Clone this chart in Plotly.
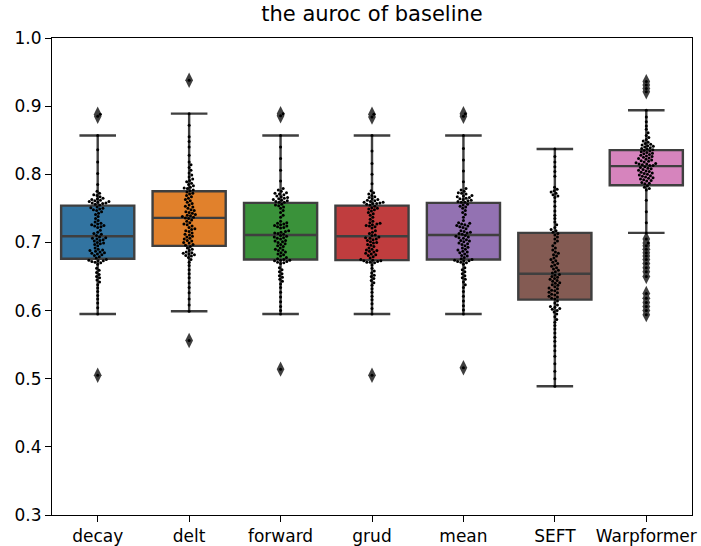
import numpy as np
import plotly.graph_objects as go

# ---- data -------------------------------------------------------------
methods = ["decay", "delt", "forward", "grud", "mean", "SEFT", "Warpformer"]

colors = ["#3274a1", "#e1812c", "#3a923a", "#c03d3e", "#9372b2", "#845b53", "#d684bd"]

# box summary per method (q1, median, q3, whisker ends)
q1 = [0.676, 0.695, 0.675, 0.674, 0.675, 0.616, 0.784]
median = [0.709, 0.736, 0.711, 0.709, 0.711, 0.654, 0.812]
q3 = [0.754, 0.775, 0.758, 0.754, 0.758, 0.714, 0.8355]
lower_whisker = [0.595, 0.599, 0.595, 0.595, 0.595, 0.489, 0.714]
upper_whisker = [0.857, 0.889, 0.857, 0.857, 0.857, 0.837, 0.894]

decay = [
    0.888, 0.885, 0.857, 0.836, 0.818, 0.801, 0.785,
    0.775, 0.772, 0.770, 0.769, 0.767, 0.765, 0.764, 0.763, 0.762, 0.761,
    0.760, 0.760, 0.759, 0.758, 0.758, 0.757, 0.756, 0.755,
    0.752, 0.751, 0.750, 0.749, 0.748, 0.747, 0.745, 0.743, 0.741, 0.738,
    0.735, 0.732, 0.730, 0.728, 0.727, 0.726, 0.725, 0.724, 0.723, 0.722,
    0.718, 0.715, 0.713, 0.712, 0.710,
    0.708, 0.707, 0.706, 0.705, 0.704, 0.703, 0.702, 0.700, 0.699, 0.698,
    0.697, 0.695, 0.692, 0.690, 0.689, 0.688, 0.687, 0.686, 0.685, 0.684,
    0.683, 0.682, 0.681, 0.679, 0.677,
    0.675, 0.674, 0.673, 0.673, 0.672, 0.671, 0.670, 0.668, 0.662, 0.659,
    0.656, 0.653, 0.650, 0.648, 0.645, 0.642, 0.638, 0.633, 0.628, 0.622,
    0.617, 0.611, 0.604, 0.595, 0.505,
]

delt = [
    0.938, 0.889, 0.872, 0.855, 0.848, 0.840, 0.828, 0.818, 0.814, 0.810,
    0.806, 0.802, 0.799, 0.796, 0.793, 0.791, 0.789, 0.787, 0.785, 0.783,
    0.781, 0.780, 0.779, 0.777, 0.776,
    0.774, 0.772, 0.771, 0.769, 0.767, 0.765, 0.763, 0.761, 0.759, 0.757,
    0.755, 0.753, 0.752, 0.750, 0.748, 0.747, 0.745, 0.744, 0.743, 0.741,
    0.740, 0.739, 0.738, 0.737, 0.736,
    0.735, 0.733, 0.731, 0.729, 0.727, 0.726, 0.724, 0.722, 0.720, 0.719,
    0.717, 0.716, 0.714, 0.712, 0.711, 0.709, 0.708, 0.706, 0.705, 0.703,
    0.702, 0.700, 0.699, 0.697, 0.696,
    0.694, 0.692, 0.690, 0.688, 0.686, 0.685, 0.684, 0.683, 0.682, 0.681,
    0.680, 0.678, 0.675, 0.671, 0.666, 0.660, 0.654, 0.648, 0.641, 0.634,
    0.626, 0.617, 0.608, 0.599, 0.556,
]

forward = [
    0.889, 0.886, 0.857, 0.840, 0.823, 0.806, 0.790, 0.779, 0.777, 0.775,
    0.773, 0.772, 0.771, 0.770, 0.768, 0.767, 0.766, 0.765, 0.764, 0.763,
    0.762, 0.761, 0.760, 0.759, 0.759,
    0.756, 0.755, 0.754, 0.752, 0.750, 0.747, 0.744, 0.740, 0.737, 0.731,
    0.729, 0.728, 0.727, 0.726, 0.725, 0.724, 0.723, 0.722, 0.721, 0.717,
    0.716, 0.715, 0.714, 0.713, 0.712,
    0.710, 0.709, 0.708, 0.707, 0.706, 0.705, 0.703, 0.702, 0.701, 0.700,
    0.698, 0.697, 0.695, 0.694, 0.692, 0.690, 0.689, 0.688, 0.686, 0.685,
    0.683, 0.682, 0.680, 0.678, 0.676,
    0.675, 0.674, 0.674, 0.673, 0.672, 0.671, 0.670, 0.669, 0.663, 0.660,
    0.657, 0.654, 0.651, 0.649, 0.646, 0.643, 0.639, 0.634, 0.627, 0.620,
    0.613, 0.606, 0.600, 0.595, 0.514,
]

grud = [
    0.888, 0.884, 0.857, 0.834, 0.816, 0.800, 0.786,
    0.776, 0.773, 0.771, 0.769, 0.767, 0.766, 0.764, 0.763, 0.762, 0.761,
    0.760, 0.759, 0.759, 0.758, 0.757, 0.757, 0.756, 0.755,
    0.753, 0.751, 0.750, 0.749, 0.748, 0.746, 0.744, 0.742, 0.740, 0.737,
    0.734, 0.731, 0.729, 0.728, 0.727, 0.726, 0.725, 0.724, 0.723, 0.721,
    0.717, 0.715, 0.713, 0.711, 0.710,
    0.708, 0.707, 0.706, 0.705, 0.704, 0.703, 0.701, 0.700, 0.699, 0.697,
    0.696, 0.694, 0.692, 0.690, 0.689, 0.688, 0.687, 0.686, 0.684, 0.683,
    0.682, 0.681, 0.679, 0.677, 0.675,
    0.674, 0.673, 0.673, 0.672, 0.671, 0.671, 0.670, 0.667, 0.662, 0.658,
    0.655, 0.652, 0.650, 0.647, 0.644, 0.641, 0.637, 0.632, 0.627, 0.621,
    0.616, 0.610, 0.603, 0.595, 0.505,
]

mean = [
    0.889, 0.885, 0.857, 0.838, 0.821, 0.805, 0.789, 0.779, 0.777, 0.775,
    0.773, 0.772, 0.771, 0.769, 0.768, 0.767, 0.766, 0.765, 0.764, 0.763,
    0.762, 0.761, 0.760, 0.759, 0.759,
    0.756, 0.755, 0.753, 0.752, 0.750, 0.747, 0.744, 0.741, 0.737, 0.732,
    0.729, 0.728, 0.727, 0.726, 0.725, 0.724, 0.723, 0.722, 0.720, 0.717,
    0.716, 0.715, 0.714, 0.713, 0.712,
    0.710, 0.709, 0.708, 0.707, 0.706, 0.704, 0.703, 0.702, 0.701, 0.699,
    0.698, 0.697, 0.695, 0.693, 0.692, 0.690, 0.689, 0.687, 0.686, 0.685,
    0.683, 0.681, 0.680, 0.678, 0.676,
    0.675, 0.674, 0.673, 0.673, 0.672, 0.671, 0.670, 0.668, 0.663, 0.660,
    0.657, 0.654, 0.651, 0.648, 0.646, 0.642, 0.638, 0.634, 0.628, 0.621,
    0.614, 0.607, 0.601, 0.595, 0.516,
]

seft = [
    0.837, 0.826, 0.818, 0.811, 0.804, 0.797, 0.781, 0.778, 0.776, 0.774,
    0.772, 0.770, 0.768, 0.766, 0.760, 0.753, 0.746, 0.740, 0.735, 0.730,
    0.726, 0.722, 0.719, 0.717, 0.715,
    0.713, 0.711, 0.708, 0.705, 0.702, 0.699, 0.695, 0.692, 0.689, 0.686,
    0.684, 0.682, 0.680, 0.677, 0.675, 0.673, 0.671, 0.669, 0.667, 0.665,
    0.663, 0.661, 0.659, 0.657, 0.655,
    0.653, 0.652, 0.650, 0.649, 0.647, 0.646, 0.644, 0.643, 0.641, 0.640,
    0.638, 0.637, 0.635, 0.633, 0.632, 0.630, 0.629, 0.627, 0.626, 0.624,
    0.623, 0.621, 0.620, 0.618, 0.617,
    0.614, 0.611, 0.608, 0.606, 0.605, 0.603, 0.602, 0.600, 0.598, 0.595,
    0.591, 0.587, 0.583, 0.578, 0.573, 0.567, 0.561, 0.555, 0.548, 0.541,
    0.533, 0.522, 0.511, 0.500, 0.489,
]

warpformer = [
    0.936, 0.931, 0.926, 0.921, 0.894, 0.884, 0.877, 0.871, 0.866, 0.861,
    0.857, 0.854, 0.851, 0.849, 0.847, 0.845, 0.844, 0.843, 0.842, 0.841,
    0.840, 0.839, 0.838, 0.837, 0.836,
    0.835, 0.834, 0.833, 0.832, 0.831, 0.830, 0.829, 0.828, 0.827, 0.826,
    0.825, 0.824, 0.823, 0.822, 0.821, 0.820, 0.819, 0.818, 0.817, 0.816,
    0.815, 0.815, 0.814, 0.813, 0.813,
    0.811, 0.810, 0.809, 0.808, 0.807, 0.806, 0.805, 0.804, 0.803, 0.802,
    0.801, 0.800, 0.799, 0.798, 0.797, 0.796, 0.795, 0.794, 0.793, 0.792,
    0.791, 0.790, 0.788, 0.787, 0.786,
    0.783, 0.781, 0.779, 0.777, 0.762, 0.745, 0.729, 0.714, 0.705, 0.699,
    0.695, 0.690, 0.685, 0.680, 0.675, 0.669, 0.663, 0.657, 0.650, 0.625,
    0.618, 0.612, 0.606, 0.600, 0.594,
]

scores = [decay, delt, forward, grud, mean, seft, warpformer]

# ---- geometry used by the swarm layout ---------------------------------
W, H = 701, 546
M = dict(l=52, r=9, t=38, b=31)
X_RANGE = (-0.5, 6.5)
Y_RANGE = (0.3, 1.0)
PX_PER_X = (W - M["l"] - M["r"]) / (X_RANGE[1] - X_RANGE[0])
PX_PER_Y = (H - M["t"] - M["b"]) / (Y_RANGE[1] - Y_RANGE[0])
DOT = 3.0


def swarm_offsets(values, dot=DOT * 1.1):
    """Beeswarm: place each point as close to the centre as it fits."""
    ys = np.asarray(values, dtype=float) * PX_PER_Y
    offsets = np.zeros(len(ys))
    placed = []
    for i in np.argsort(ys, kind="stable"):
        y = ys[i]
        near = [(px, py) for px, py in placed if abs(py - y) < dot]
        cands = [0.0]
        for px, py in near:
            dx = np.sqrt(dot * dot - (py - y) ** 2)
            cands += [px + dx, px - dx]
        cands.sort(key=abs)
        chosen = cands[-1]
        for c in cands:
            if all((c - px) ** 2 + (y - py) ** 2 >= dot * dot - 1e-6 for px, py in near):
                chosen = c
                break
        placed.append((chosen, y))
        offsets[i] = chosen / PX_PER_X
    return offsets


fig = go.Figure()

# boxes
for i, name in enumerate(methods):
    fig.add_trace(go.Box(
        x=[i], q1=[q1[i]], median=[median[i]], q3=[q3[i]],
        lowerfence=[lower_whisker[i]], upperfence=[upper_whisker[i]],
        width=0.8, whiskerwidth=0.5, boxpoints=False,
        fillcolor=colors[i], line=dict(color="#3f3f3f", width=2.4),
        name=name, showlegend=False, hoverinfo="skip",
    ))

# outliers (values beyond the whiskers) as diamonds
for i, vals in enumerate(scores):
    out = [v for v in vals if v > upper_whisker[i] + 1e-9 or v < lower_whisker[i] - 1e-9]
    if out:
        fig.add_trace(go.Scatter(
            x=[i] * len(out), y=out, mode="markers",
            marker=dict(symbol="diamond-tall", size=11, color="#3f3f3f",
                        line=dict(width=0)),
            showlegend=False, hoverinfo="skip",
        ))

# swarm points
for i, vals in enumerate(scores):
    xs = i + swarm_offsets(vals)
    fig.add_trace(go.Scatter(
        x=xs, y=vals, mode="markers",
        marker=dict(size=DOT, color="black", line=dict(width=0)),
        showlegend=False, hoverinfo="skip",
    ))

axis_common = dict(
    showline=True, linecolor="black", linewidth=1, mirror=True,
    ticks="outside", ticklen=6, tickwidth=1, tickcolor="black",
    showgrid=False, zeroline=False, automargin=False,
    tickfont=dict(family="DejaVu Sans", size=17, color="black"),
)

fig.update_layout(
    width=W, height=H,
    margin=M,
    paper_bgcolor="white", plot_bgcolor="white",
    title=dict(text="the auroc of baseline", x=(M["l"] + (W - M["l"] - M["r"]) / 2) / W,
               xanchor="center", y=1 - 14 / H, yanchor="middle",
               font=dict(family="DejaVu Sans", size=21, color="black")),
    xaxis=dict(range=list(X_RANGE), tickmode="array", tickvals=list(range(len(methods))),
               ticktext=methods, **axis_common),
    yaxis=dict(range=list(Y_RANGE), tickmode="linear", tick0=0.3, dtick=0.1,
               tickformat=".1f", **axis_common),
    boxmode="overlay",
)

fig.write_html("out.html")
